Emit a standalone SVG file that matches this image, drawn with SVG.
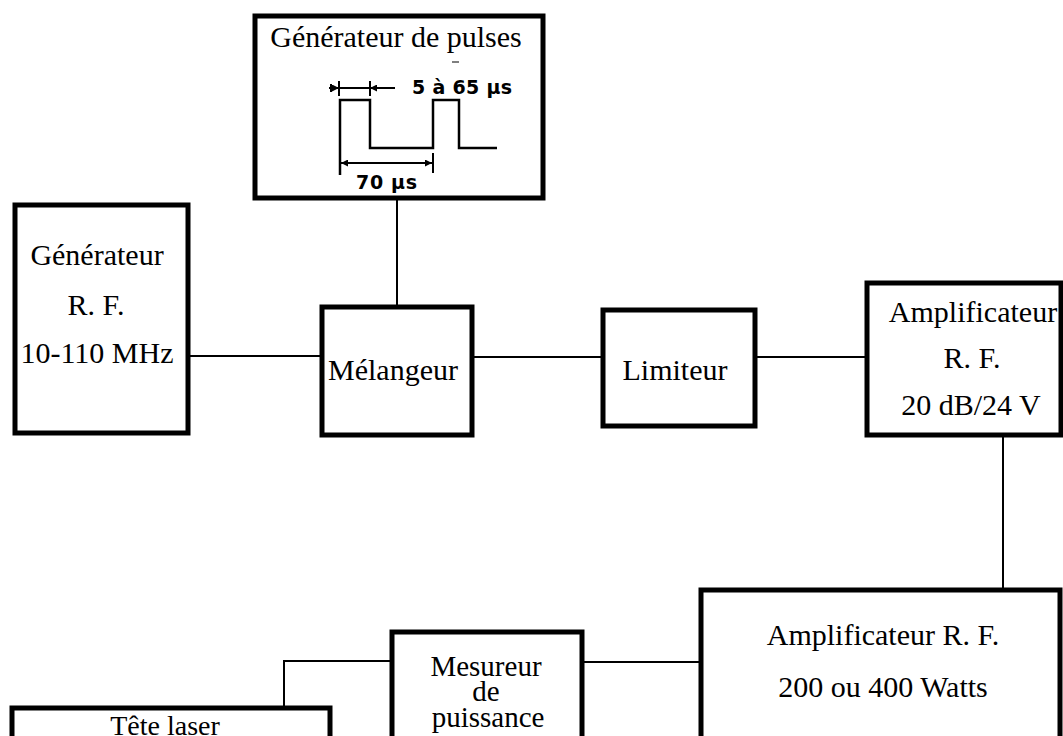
<svg xmlns="http://www.w3.org/2000/svg" width="1063" height="736" viewBox="0 0 1063 736">
  <style>
    .box { fill: #fff; stroke: #000; stroke-width: 5; }
    .wire { fill: none; stroke: #000; stroke-width: 2; }
    .lbl { font-family: "Liberation Serif", "Times New Roman", serif; font-size: 30px; fill: #000; text-anchor: middle; }
    .tight { font-size: 29px; }
    .wave { fill: none; stroke: #000; stroke-width: 2.5; }
    .dim { font-family: "DejaVu Sans", "Liberation Sans", sans-serif; font-weight: bold; font-size: 19px; fill: #000; }
  </style>
  <defs>
    <marker id="tip" viewBox="0 0 10 10" refX="10" refY="5" markerWidth="8" markerHeight="7" markerUnits="userSpaceOnUse" orient="auto">
      <path d="M0,0 L10,5 L0,10 Z" fill="#000"/>
    </marker>
  </defs>
  <rect width="1063" height="736" fill="#fff"/>

  <!-- connectors -->
  <g id="connectors">
    <line class="wire" x1="397" y1="198" x2="397" y2="307"/>
    <line class="wire" x1="188" y1="356" x2="322" y2="356"/>
    <line class="wire" x1="472" y1="357" x2="603" y2="357"/>
    <line class="wire" x1="755" y1="357" x2="867" y2="357"/>
    <line class="wire" x1="1003" y1="435" x2="1003" y2="590"/>
    <line class="wire" x1="582" y1="662" x2="701" y2="662"/>
    <polyline class="wire" points="392,661 284,661 284,708"/>
  </g>

  <!-- pulse generator with waveform sketch -->
  <g id="pulse-generator">
    <rect class="box" x="255" y="16" width="288" height="182"/>
    <text class="lbl" x="396" y="47">Générateur de pulses</text>
    <line x1="452" y1="62" x2="459" y2="62" stroke="#555" stroke-width="1.5"/>
    <polyline class="wave" points="340,175 340,100 370,100 370,148 433,148 433,100 459,100 459,148 497,148"/>
    <!-- pulse width dimension -->
    <line class="wire" x1="329" y1="88" x2="339" y2="88" marker-end="url(#tip)"/>
    <line class="wire" x1="339" y1="88" x2="370" y2="88"/>
    <line class="wire" x1="395" y1="88" x2="370" y2="88" marker-end="url(#tip)"/>
    <line class="wire" x1="339" y1="81" x2="339" y2="96"/>
    <line class="wire" x1="370" y1="81" x2="370" y2="96"/>
    <line class="wire" x1="331" y1="84" x2="331" y2="92"/>
    <text class="dim" x="412" y="94" textLength="100" lengthAdjust="spacing">5 à 65 µs</text>
    <!-- period dimension -->
    <line class="wire" x1="386" y1="163" x2="341" y2="163" marker-end="url(#tip)"/>
    <line class="wire" x1="386" y1="163" x2="432" y2="163" marker-end="url(#tip)"/>
    <line class="wire" x1="433" y1="153" x2="433" y2="173"/>
    <text class="dim" x="356" y="189" textLength="61" lengthAdjust="spacing">70 µs</text>
  </g>

  <g id="rf-generator">
    <rect class="box" x="15" y="205" width="173" height="228"/>
    <text class="lbl" x="97" y="265">Générateur</text>
    <text class="lbl" x="96" y="315">R.  F.</text>
    <text class="lbl" x="97" y="363">10-110 MHz</text>
  </g>

  <g id="mixer">
    <rect class="box" x="322" y="307" width="150" height="128"/>
    <text class="lbl" x="393" y="380">Mélangeur</text>
  </g>

  <g id="limiter">
    <rect class="box" x="603" y="310" width="152" height="116"/>
    <text class="lbl" x="675" y="380">Limiteur</text>
  </g>

  <g id="rf-amplifier-20db">
    <rect class="box" x="867" y="283" width="194" height="152"/>
    <text class="lbl" x="973" y="322">Amplificateur</text>
    <text class="lbl" x="972" y="368">R.  F.</text>
    <text class="lbl" x="971" y="415">20 dB/24 V</text>
  </g>

  <g id="rf-amplifier-power">
    <rect class="box" x="701" y="590" width="359" height="160"/>
    <text class="lbl" x="883" y="645">Amplificateur R. F.</text>
    <text class="lbl" x="883" y="697">200 ou 400 Watts</text>
  </g>

  <g id="power-meter">
    <rect class="box" x="392" y="632" width="190" height="110"/>
    <text class="lbl tight" x="486" y="676">Mesureur</text>
    <text class="lbl tight" x="486" y="701">de</text>
    <text class="lbl tight" x="488" y="727">puissance</text>
  </g>

  <g id="laser-head">
    <rect class="box" x="12" y="708" width="318" height="40"/>
    <text class="lbl" x="165" y="735" style="font-size:28px">Tête laser</text>
  </g>
</svg>
